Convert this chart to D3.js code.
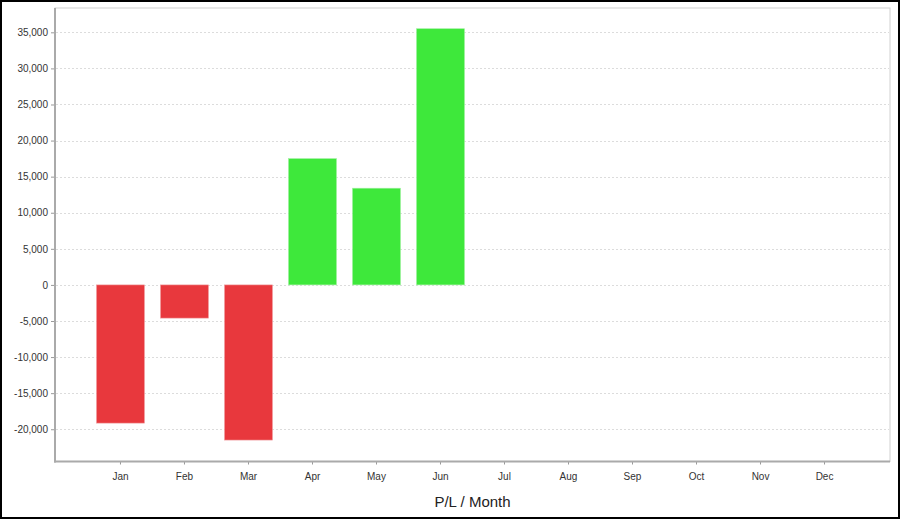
<!DOCTYPE html>
<html><head><meta charset="utf-8">
<script src="https://cdn.jsdelivr.net/npm/d3@7"></script>
<style>
html,body{margin:0;padding:0;background:#fff;}
svg{display:block;}
</style></head>
<body>
<script>
const months = ["Jan","Feb","Mar","Apr","May","Jun","Jul","Aug","Sep","Oct","Nov","Dec"];
const values = [-19150, -4600, -21500, 17500, 13400, 35500, null, null, null, null, null, null];
const yTicks = [-20000,-15000,-10000,-5000,0,5000,10000,15000,20000,25000,30000,35000];
const xTitle = "P/L / Month";

(function(){
const W = 900, H = 519;
const svg = d3.select("body").append("svg").attr("width", W).attr("height", H);

// outer border
svg.append("rect").attr("x",1).attr("y",1).attr("width",W-2).attr("height",H-2)
  .attr("fill","#fff").attr("stroke","#000").attr("stroke-width",2);

const pL = 55, pR = 890, pT = 8, pB = 461.5;

const x = d3.scaleBand().domain(months).range([pL, pR]).paddingInner(0.25).paddingOuter(0.648);
const y = d3.scaleLinear().domain([-24470, 38370]).range([pB, pT]);

// plot frame
svg.append("rect").attr("x",pL).attr("y",pT).attr("width",pR-pL).attr("height",pB-pT)
  .attr("fill","#fff").attr("stroke","#d0d0d0").attr("stroke-width",1);

// gridlines
svg.append("g").selectAll("line").data(yTicks).join("line")
  .attr("x1",pL+1).attr("x2",pR-1)
  .attr("y1",d=>Math.round(y(d))+0.5).attr("y2",d=>Math.round(y(d))+0.5)
  .attr("stroke","#dcdcdc").attr("stroke-width",1).attr("stroke-dasharray","2,2");

// bars
const data = months.map((m,i)=>({m, v: values[i]})).filter(d=>d.v!==null);
svg.append("g").selectAll("rect").data(data).join("rect")
  .attr("x",d=>x(d.m))
  .attr("width",x.bandwidth())
  .attr("y",d=>y(Math.max(0,d.v)))
  .attr("height",d=>Math.abs(y(d.v)-y(0)))
  .attr("fill",d=>d.v<0?"#e8383d":"#3ee83b")
  .attr("stroke",d=>d.v<0?"#f0a0a2":"#a0f0a0").attr("stroke-width",0.6);

// y axis
const fmt = d3.format(",");
const yAxis = d3.axisLeft(y).tickValues(yTicks).tickSize(4).tickPadding(3)
  .tickFormat(d => fmt(d).replace("\u2212","-"));
const gy = svg.append("g").attr("transform",`translate(${pL},0)`).call(yAxis);
gy.select(".domain").remove();
gy.selectAll(".tick line").attr("stroke","#999");
gy.selectAll(".tick text").attr("fill","#333").style("font-family","Liberation Sans, Arial, sans-serif").style("font-size","10px");

// x axis
const xAxis = d3.axisBottom(x).tickSize(3).tickPadding(8);
const gx = svg.append("g").attr("transform",`translate(0,${pB})`).call(xAxis);
gx.select(".domain").remove();
gx.selectAll(".tick line").attr("stroke","#999");
gx.selectAll(".tick text").attr("fill","#333").style("font-family","Liberation Sans, Arial, sans-serif").style("font-size","10px");

// axis lines
svg.append("line").attr("x1",pL).attr("x2",pL).attr("y1",pT).attr("y2",pB+1)
  .attr("stroke","#aaa").attr("stroke-width",2);
svg.append("line").attr("x1",pL-1).attr("x2",pR).attr("y1",pB).attr("y2",pB)
  .attr("stroke","#aaa").attr("stroke-width",2);

// title
svg.append("text").attr("x",(pL+pR)/2).attr("y",507).attr("text-anchor","middle")
  .attr("fill","#222").style("font-family","Liberation Sans, Arial, sans-serif").style("font-size","15px")
  .text(xTitle);
})();
</script>
</body></html>
